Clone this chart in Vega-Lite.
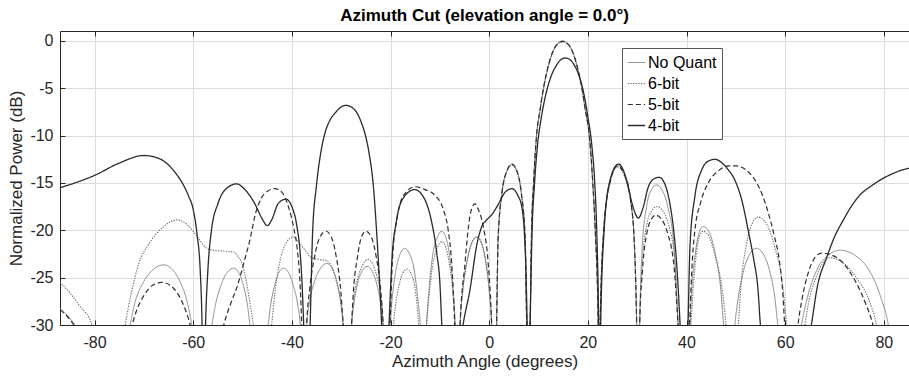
{
"$schema": "https://vega.github.io/schema/vega-lite/v6.json",
"width": 849, "height": 294,
"autosize": {"type": "none"},
"padding": {"left": 60, "top": 31, "right": 0, "bottom": 53},
"background": "white",
"config": {"view": {"stroke": null}, "font": "Liberation Sans"},
"title": {"text": "Azimuth Cut (elevation angle = 0.0°)", "fontSize": 17, "fontWeight": "bold", "font": "Liberation Sans", "color": "#000000", "offset": 6, "anchor": "middle"},
"data": {"values": [
{"s":"No Quant","x":-87,"y":-28.2},{"s":"No Quant","x":-85.5,"y":-29},{"s":"No Quant","x":-84,"y":-30},{"s":"No Quant","x":-78,"y":-40},
{"s":"No Quant","x":-72.8,"y":-30},{"s":"No Quant","x":-71.8,"y":-27.6},{"s":"No Quant","x":-70.1,"y":-25.5},{"s":"No Quant","x":-68,"y":-24.1},{"s":"No Quant","x":-66,"y":-23.65},{"s":"No Quant","x":-64.3,"y":-24.1},{"s":"No Quant","x":-62.6,"y":-25.5},{"s":"No Quant","x":-61.2,"y":-27.6},{"s":"No Quant","x":-60.3,"y":-30},{"s":"No Quant","x":-58.3,"y":-40},
{"s":"No Quant","x":-56.2,"y":-30},{"s":"No Quant","x":-55.5,"y":-27.9},{"s":"No Quant","x":-54.4,"y":-25.85},{"s":"No Quant","x":-53.1,"y":-24.44},{"s":"No Quant","x":-51.8,"y":-24},{"s":"No Quant","x":-50.8,"y":-24.44},{"s":"No Quant","x":-49.8,"y":-25.85},{"s":"No Quant","x":-49,"y":-27.9},{"s":"No Quant","x":-48.5,"y":-30},{"s":"No Quant","x":-46.6,"y":-40},
{"s":"No Quant","x":-44.8,"y":-30},{"s":"No Quant","x":-44.3,"y":-27.9},{"s":"No Quant","x":-43.5,"y":-25.85},{"s":"No Quant","x":-42.6,"y":-24.44},{"s":"No Quant","x":-41.7,"y":-24},{"s":"No Quant","x":-40.7,"y":-24.44},{"s":"No Quant","x":-39.7,"y":-25.85},{"s":"No Quant","x":-38.8,"y":-27.9},{"s":"No Quant","x":-38.3,"y":-30},{"s":"No Quant","x":-37.6,"y":-40},
{"s":"No Quant","x":-37,"y":-30},{"s":"No Quant","x":-36.4,"y":-27.5},{"s":"No Quant","x":-35.4,"y":-25.4},{"s":"No Quant","x":-34.1,"y":-23.95},{"s":"No Quant","x":-32.9,"y":-23.5},{"s":"No Quant","x":-31.9,"y":-23.95},{"s":"No Quant","x":-30.9,"y":-25.4},{"s":"No Quant","x":-30.1,"y":-27.5},{"s":"No Quant","x":-29.6,"y":-30},{"s":"No Quant","x":-28.7,"y":-40},
{"s":"No Quant","x":-27.9,"y":-30},{"s":"No Quant","x":-27.4,"y":-27.7},{"s":"No Quant","x":-26.7,"y":-25.65},{"s":"No Quant","x":-25.7,"y":-24.25},{"s":"No Quant","x":-24.8,"y":-23.8},{"s":"No Quant","x":-23.8,"y":-24.25},{"s":"No Quant","x":-22.8,"y":-25.65},{"s":"No Quant","x":-22,"y":-27.7},{"s":"No Quant","x":-21.5,"y":-30},{"s":"No Quant","x":-20.8,"y":-40},
{"s":"No Quant","x":-20.1,"y":-30},{"s":"No Quant","x":-19.65,"y":-27.1},{"s":"No Quant","x":-18.9,"y":-24.2},{"s":"No Quant","x":-18,"y":-22.45},{"s":"No Quant","x":-17.1,"y":-21.9},{"s":"No Quant","x":-16.2,"y":-22.45},{"s":"No Quant","x":-15.2,"y":-24.2},{"s":"No Quant","x":-14.5,"y":-27.1},{"s":"No Quant","x":-14,"y":-30},{"s":"No Quant","x":-13.4,"y":-40},
{"s":"No Quant","x":-12.7,"y":-30},{"s":"No Quant","x":-12.2,"y":-26.3},{"s":"No Quant","x":-11.5,"y":-22.8},{"s":"No Quant","x":-10.5,"y":-20.7},{"s":"No Quant","x":-9.6,"y":-20.1},{"s":"No Quant","x":-8.8,"y":-20.7},{"s":"No Quant","x":-8,"y":-22.8},{"s":"No Quant","x":-7.3,"y":-26.3},{"s":"No Quant","x":-6.9,"y":-30},{"s":"No Quant","x":-6.4,"y":-40},
{"s":"No Quant","x":-5.9,"y":-30},{"s":"No Quant","x":-5.4,"y":-26.6},{"s":"No Quant","x":-4.5,"y":-23.3},{"s":"No Quant","x":-3.5,"y":-21.3},{"s":"No Quant","x":-2.5,"y":-20.7},{"s":"No Quant","x":-1.6,"y":-21.3},{"s":"No Quant","x":-0.7,"y":-23.3},{"s":"No Quant","x":0.05,"y":-26.6},{"s":"No Quant","x":0.5,"y":-30},{"s":"No Quant","x":1,"y":-40},
{"s":"No Quant","x":1.5,"y":-30},{"s":"No Quant","x":1.8,"y":-21},{"s":"No Quant","x":2.6,"y":-16},{"s":"No Quant","x":3.6,"y":-13.7},{"s":"No Quant","x":4.6,"y":-13},{"s":"No Quant","x":5.6,"y":-13.7},{"s":"No Quant","x":6.5,"y":-16},{"s":"No Quant","x":7.3,"y":-21},{"s":"No Quant","x":7.6,"y":-30},{"s":"No Quant","x":8,"y":-40},
{"s":"No Quant","x":8.3,"y":-30},{"s":"No Quant","x":8.6,"y":-20},{"s":"No Quant","x":9,"y":-15},{"s":"No Quant","x":9.6,"y":-10},{"s":"No Quant","x":10.3,"y":-7.3},{"s":"No Quant","x":11,"y":-5},{"s":"No Quant","x":12,"y":-2.6},{"s":"No Quant","x":13,"y":-1},{"s":"No Quant","x":14,"y":-0.2},{"s":"No Quant","x":14.9,"y":0},{"s":"No Quant","x":15.8,"y":-0.2},{"s":"No Quant","x":16.8,"y":-1},{"s":"No Quant","x":17.8,"y":-2.6},{"s":"No Quant","x":18.8,"y":-5},{"s":"No Quant","x":19.5,"y":-7.3},{"s":"No Quant","x":20.3,"y":-10},{"s":"No Quant","x":21,"y":-15},{"s":"No Quant","x":21.5,"y":-20},{"s":"No Quant","x":22.1,"y":-30},{"s":"No Quant","x":22.3,"y":-40},
{"s":"No Quant","x":22.5,"y":-30},{"s":"No Quant","x":23.2,"y":-20},{"s":"No Quant","x":24.5,"y":-14.8},{"s":"No Quant","x":26,"y":-13.1},{"s":"No Quant","x":27.4,"y":-14},{"s":"No Quant","x":28.6,"y":-16.5},{"s":"No Quant","x":29.4,"y":-21},{"s":"No Quant","x":29.9,"y":-30},{"s":"No Quant","x":30.2,"y":-40},
{"s":"No Quant","x":30.5,"y":-30},{"s":"No Quant","x":31,"y":-22},{"s":"No Quant","x":31.9,"y":-17.5},{"s":"No Quant","x":32.9,"y":-15.7},{"s":"No Quant","x":33.9,"y":-15.2},{"s":"No Quant","x":35,"y":-15.7},{"s":"No Quant","x":36.2,"y":-17.5},{"s":"No Quant","x":37.5,"y":-22},{"s":"No Quant","x":38.3,"y":-30},{"s":"No Quant","x":39.5,"y":-40},
{"s":"No Quant","x":40.7,"y":-30},{"s":"No Quant","x":41.1,"y":-26},{"s":"No Quant","x":41.8,"y":-22.4},{"s":"No Quant","x":42.6,"y":-20.2},{"s":"No Quant","x":43.4,"y":-19.6},{"s":"No Quant","x":44.6,"y":-20.2},{"s":"No Quant","x":45.8,"y":-22.4},{"s":"No Quant","x":46.9,"y":-26},{"s":"No Quant","x":47.5,"y":-30},{"s":"No Quant","x":48.6,"y":-40},
{"s":"No Quant","x":49.8,"y":-30},{"s":"No Quant","x":50.5,"y":-27.1},{"s":"No Quant","x":51.6,"y":-24.2},{"s":"No Quant","x":52.9,"y":-22.45},{"s":"No Quant","x":54.2,"y":-21.9},{"s":"No Quant","x":55.5,"y":-22.45},{"s":"No Quant","x":56.8,"y":-24.2},{"s":"No Quant","x":57.9,"y":-27.1},{"s":"No Quant","x":58.5,"y":-30},{"s":"No Quant","x":61,"y":-40},
{"s":"No Quant","x":63.3,"y":-30},{"s":"No Quant","x":64.5,"y":-27.1},{"s":"No Quant","x":66.4,"y":-24.2},{"s":"No Quant","x":68.8,"y":-22.6},{"s":"No Quant","x":71.1,"y":-22.1},{"s":"No Quant","x":74,"y":-22.6},{"s":"No Quant","x":77,"y":-24.2},{"s":"No Quant","x":79.4,"y":-27.1},{"s":"No Quant","x":80.9,"y":-30},{"s":"No Quant","x":83,"y":-40},{"s":"No Quant","x":85.1,"y":-40},

{"s":"6-bit","x":-87,"y":-25.5},{"s":"6-bit","x":-85,"y":-26.6},{"s":"6-bit","x":-83,"y":-28},{"s":"6-bit","x":-80.5,"y":-30},{"s":"6-bit","x":-77,"y":-40},
{"s":"6-bit","x":-73.8,"y":-30},{"s":"6-bit","x":-72.5,"y":-26.5},{"s":"6-bit","x":-71,"y":-23.5},{"s":"6-bit","x":-68.8,"y":-21.3},{"s":"6-bit","x":-66,"y":-19.6},{"s":"6-bit","x":-63.3,"y":-18.9},{"s":"6-bit","x":-61,"y":-19.5},{"s":"6-bit","x":-59,"y":-20.8},{"s":"6-bit","x":-57.5,"y":-21.8},{"s":"6-bit","x":-56,"y":-22.1},{"s":"6-bit","x":-53.5,"y":-22.2},{"s":"6-bit","x":-51.8,"y":-22.3},{"s":"6-bit","x":-50.9,"y":-22.8},{"s":"6-bit","x":-50.2,"y":-23.4},{"s":"6-bit","x":-49.2,"y":-25.5},{"s":"6-bit","x":-48.4,"y":-28},{"s":"6-bit","x":-47.8,"y":-30},{"s":"6-bit","x":-46,"y":-40},
{"s":"6-bit","x":-44.1,"y":-30},{"s":"6-bit","x":-43.3,"y":-26},{"s":"6-bit","x":-42.2,"y":-22.8},{"s":"6-bit","x":-41,"y":-21.2},{"s":"6-bit","x":-39.7,"y":-20.7},{"s":"6-bit","x":-38.5,"y":-21.3},{"s":"6-bit","x":-37.2,"y":-22.2},{"s":"6-bit","x":-36.3,"y":-22.8},{"s":"6-bit","x":-34.3,"y":-23.1},{"s":"6-bit","x":-33,"y":-23.2},{"s":"6-bit","x":-31.8,"y":-24},{"s":"6-bit","x":-30.7,"y":-26},{"s":"6-bit","x":-30,"y":-28},{"s":"6-bit","x":-29.6,"y":-30},{"s":"6-bit","x":-28.7,"y":-40},
{"s":"6-bit","x":-27.9,"y":-30},{"s":"6-bit","x":-27.4,"y":-27},{"s":"6-bit","x":-26.6,"y":-25},{"s":"6-bit","x":-25.6,"y":-23.6},{"s":"6-bit","x":-24.6,"y":-23.1},{"s":"6-bit","x":-23.6,"y":-23.6},{"s":"6-bit","x":-22.7,"y":-25},{"s":"6-bit","x":-21.9,"y":-27},{"s":"6-bit","x":-21.5,"y":-30},{"s":"6-bit","x":-20.4,"y":-40},
{"s":"6-bit","x":-19.4,"y":-30},{"s":"6-bit","x":-19,"y":-28},{"s":"6-bit","x":-18.3,"y":-25.9},{"s":"6-bit","x":-17.5,"y":-24.5},{"s":"6-bit","x":-16.7,"y":-24.1},{"s":"6-bit","x":-15.9,"y":-24.5},{"s":"6-bit","x":-15.1,"y":-25.9},{"s":"6-bit","x":-14.6,"y":-28},{"s":"6-bit","x":-14.3,"y":-30},{"s":"6-bit","x":-13.5,"y":-40},
{"s":"6-bit","x":-12.7,"y":-30},{"s":"6-bit","x":-12.2,"y":-27},{"s":"6-bit","x":-11.5,"y":-23.8},{"s":"6-bit","x":-10.5,"y":-21.8},{"s":"6-bit","x":-9.6,"y":-21.2},{"s":"6-bit","x":-8.8,"y":-21.8},{"s":"6-bit","x":-8,"y":-23.8},{"s":"6-bit","x":-7.3,"y":-27},{"s":"6-bit","x":-6.9,"y":-30},{"s":"6-bit","x":-6.4,"y":-40},
{"s":"6-bit","x":-5.9,"y":-30},{"s":"6-bit","x":-5.4,"y":-26.6},{"s":"6-bit","x":-4.5,"y":-23.3},{"s":"6-bit","x":-3.5,"y":-21.3},{"s":"6-bit","x":-2.5,"y":-20.7},{"s":"6-bit","x":-1.6,"y":-21.3},{"s":"6-bit","x":-0.7,"y":-23.3},{"s":"6-bit","x":0.05,"y":-26.6},{"s":"6-bit","x":0.5,"y":-30},{"s":"6-bit","x":1,"y":-40},
{"s":"6-bit","x":1.5,"y":-30},{"s":"6-bit","x":1.8,"y":-21.1},{"s":"6-bit","x":2.6,"y":-16.1},{"s":"6-bit","x":3.6,"y":-13.8},{"s":"6-bit","x":4.6,"y":-13.1},{"s":"6-bit","x":5.6,"y":-13.8},{"s":"6-bit","x":6.5,"y":-16.1},{"s":"6-bit","x":7.3,"y":-21.1},{"s":"6-bit","x":7.6,"y":-30},{"s":"6-bit","x":8,"y":-40},
{"s":"6-bit","x":8.3,"y":-30},{"s":"6-bit","x":8.6,"y":-20},{"s":"6-bit","x":9,"y":-15},{"s":"6-bit","x":9.6,"y":-10},{"s":"6-bit","x":10.3,"y":-7.4},{"s":"6-bit","x":11,"y":-5.1},{"s":"6-bit","x":12,"y":-2.7},{"s":"6-bit","x":13,"y":-1.1},{"s":"6-bit","x":14,"y":-0.3},{"s":"6-bit","x":14.9,"y":-0.1},{"s":"6-bit","x":15.8,"y":-0.3},{"s":"6-bit","x":16.8,"y":-1.1},{"s":"6-bit","x":17.8,"y":-2.7},{"s":"6-bit","x":18.8,"y":-5.1},{"s":"6-bit","x":19.5,"y":-7.4},{"s":"6-bit","x":20.3,"y":-10.1},{"s":"6-bit","x":21,"y":-15},{"s":"6-bit","x":21.5,"y":-20},{"s":"6-bit","x":22.1,"y":-30},{"s":"6-bit","x":22.3,"y":-40},
{"s":"6-bit","x":22.5,"y":-30},{"s":"6-bit","x":23.2,"y":-20.2},{"s":"6-bit","x":24.5,"y":-15},{"s":"6-bit","x":26,"y":-13.3},{"s":"6-bit","x":27.4,"y":-14.2},{"s":"6-bit","x":28.6,"y":-16.7},{"s":"6-bit","x":29.4,"y":-21.2},{"s":"6-bit","x":29.9,"y":-30},{"s":"6-bit","x":30.2,"y":-40},
{"s":"6-bit","x":30.5,"y":-30},{"s":"6-bit","x":31.1,"y":-23},{"s":"6-bit","x":32,"y":-19.3},{"s":"6-bit","x":33,"y":-17.9},{"s":"6-bit","x":34,"y":-17.5},{"s":"6-bit","x":35.1,"y":-17.9},{"s":"6-bit","x":36.3,"y":-19.3},{"s":"6-bit","x":37.6,"y":-23},{"s":"6-bit","x":38.3,"y":-30},{"s":"6-bit","x":39.6,"y":-40},
{"s":"6-bit","x":40.9,"y":-30},{"s":"6-bit","x":41.3,"y":-26.5},{"s":"6-bit","x":41.9,"y":-22.9},{"s":"6-bit","x":42.6,"y":-20.7},{"s":"6-bit","x":43.4,"y":-20.1},{"s":"6-bit","x":44.6,"y":-20.7},{"s":"6-bit","x":45.9,"y":-22.9},{"s":"6-bit","x":47.3,"y":-26.5},{"s":"6-bit","x":48,"y":-30},{"s":"6-bit","x":49.3,"y":-40},
{"s":"6-bit","x":50.5,"y":-30},{"s":"6-bit","x":51.1,"y":-25.5},{"s":"6-bit","x":52.1,"y":-21.6},{"s":"6-bit","x":53.3,"y":-19.3},{"s":"6-bit","x":54.5,"y":-18.6},{"s":"6-bit","x":56.2,"y":-19.3},{"s":"6-bit","x":57.8,"y":-21.6},{"s":"6-bit","x":59.4,"y":-25.5},{"s":"6-bit","x":60.3,"y":-30},{"s":"6-bit","x":62,"y":-40},
{"s":"6-bit","x":64,"y":-30},{"s":"6-bit","x":64.8,"y":-27.5},{"s":"6-bit","x":66.1,"y":-25.2},{"s":"6-bit","x":67.6,"y":-23.5},{"s":"6-bit","x":69.1,"y":-22.9},{"s":"6-bit","x":71.9,"y":-23.5},{"s":"6-bit","x":74.7,"y":-25.2},{"s":"6-bit","x":77.1,"y":-27.5},{"s":"6-bit","x":78.5,"y":-30},{"s":"6-bit","x":81,"y":-40},{"s":"6-bit","x":85.1,"y":-40},

{"s":"5-bit","x":-87,"y":-28.4},{"s":"5-bit","x":-85.5,"y":-29.1},{"s":"5-bit","x":-84.2,"y":-30},{"s":"5-bit","x":-78,"y":-40},
{"s":"5-bit","x":-72.4,"y":-30},{"s":"5-bit","x":-71.5,"y":-28.5},{"s":"5-bit","x":-70,"y":-26.9},{"s":"5-bit","x":-68.2,"y":-25.8},{"s":"5-bit","x":-66.4,"y":-25.5},{"s":"5-bit","x":-64.7,"y":-25.8},{"s":"5-bit","x":-62.9,"y":-26.9},{"s":"5-bit","x":-61.5,"y":-28.5},{"s":"5-bit","x":-60.6,"y":-30},{"s":"5-bit","x":-57,"y":-40},
{"s":"5-bit","x":-53.8,"y":-30},{"s":"5-bit","x":-52.3,"y":-27.6},{"s":"5-bit","x":-51,"y":-25.8},{"s":"5-bit","x":-49.5,"y":-23},{"s":"5-bit","x":-48.5,"y":-21},{"s":"5-bit","x":-47.4,"y":-18.3},{"s":"5-bit","x":-46.2,"y":-16.6},{"s":"5-bit","x":-45,"y":-15.9},{"s":"5-bit","x":-43.5,"y":-15.6},{"s":"5-bit","x":-42,"y":-16},{"s":"5-bit","x":-40.7,"y":-17.5},{"s":"5-bit","x":-39.6,"y":-19.8},{"s":"5-bit","x":-38.9,"y":-22},{"s":"5-bit","x":-38.3,"y":-26},{"s":"5-bit","x":-38,"y":-30},{"s":"5-bit","x":-37.5,"y":-40},
{"s":"5-bit","x":-37,"y":-30},{"s":"5-bit","x":-36.4,"y":-26.3},{"s":"5-bit","x":-35.4,"y":-22.8},{"s":"5-bit","x":-34.3,"y":-20.7},{"s":"5-bit","x":-33.1,"y":-20.1},{"s":"5-bit","x":-32,"y":-20.7},{"s":"5-bit","x":-31,"y":-22.8},{"s":"5-bit","x":-30.1,"y":-26.3},{"s":"5-bit","x":-29.6,"y":-30},{"s":"5-bit","x":-28.7,"y":-40},
{"s":"5-bit","x":-27.9,"y":-30},{"s":"5-bit","x":-27.5,"y":-26.3},{"s":"5-bit","x":-26.7,"y":-22.8},{"s":"5-bit","x":-25.9,"y":-20.7},{"s":"5-bit","x":-25,"y":-20.1},{"s":"5-bit","x":-23.9,"y":-20.7},{"s":"5-bit","x":-22.9,"y":-22.8},{"s":"5-bit","x":-22,"y":-26.3},{"s":"5-bit","x":-21.5,"y":-30},{"s":"5-bit","x":-20.8,"y":-40},
{"s":"5-bit","x":-20.1,"y":-30},{"s":"5-bit","x":-19.6,"y":-23},{"s":"5-bit","x":-18.6,"y":-18.5},{"s":"5-bit","x":-17.2,"y":-16.2},{"s":"5-bit","x":-15,"y":-15.4},{"s":"5-bit","x":-13,"y":-15.7},{"s":"5-bit","x":-11,"y":-16.3},{"s":"5-bit","x":-9.3,"y":-17.8},{"s":"5-bit","x":-8.3,"y":-20},{"s":"5-bit","x":-7.6,"y":-23.5},{"s":"5-bit","x":-7,"y":-30},{"s":"5-bit","x":-6.5,"y":-40},
{"s":"5-bit","x":-5.9,"y":-30},{"s":"5-bit","x":-4.9,"y":-23.5},{"s":"5-bit","x":-4.2,"y":-19.6},{"s":"5-bit","x":-3.6,"y":-17.8},{"s":"5-bit","x":-2.9,"y":-17.2},{"s":"5-bit","x":-2.2,"y":-17.8},{"s":"5-bit","x":-1.2,"y":-19.6},{"s":"5-bit","x":-0.2,"y":-23.5},{"s":"5-bit","x":0.5,"y":-30},{"s":"5-bit","x":1,"y":-40},
{"s":"5-bit","x":1.5,"y":-30},{"s":"5-bit","x":1.8,"y":-21},{"s":"5-bit","x":2.6,"y":-16},{"s":"5-bit","x":3.6,"y":-13.7},{"s":"5-bit","x":4.6,"y":-13},{"s":"5-bit","x":5.6,"y":-13.7},{"s":"5-bit","x":6.5,"y":-16},{"s":"5-bit","x":7.3,"y":-21},{"s":"5-bit","x":7.6,"y":-30},{"s":"5-bit","x":8,"y":-40},
{"s":"5-bit","x":8.3,"y":-30},{"s":"5-bit","x":8.6,"y":-20},{"s":"5-bit","x":9,"y":-15},{"s":"5-bit","x":9.6,"y":-10},{"s":"5-bit","x":10.3,"y":-7.3},{"s":"5-bit","x":11,"y":-5},{"s":"5-bit","x":12,"y":-2.6},{"s":"5-bit","x":13,"y":-1},{"s":"5-bit","x":14,"y":-0.25},{"s":"5-bit","x":14.9,"y":-0.05},{"s":"5-bit","x":15.8,"y":-0.25},{"s":"5-bit","x":16.8,"y":-1},{"s":"5-bit","x":17.8,"y":-2.6},{"s":"5-bit","x":18.8,"y":-5},{"s":"5-bit","x":19.5,"y":-7.3},{"s":"5-bit","x":20.3,"y":-10},{"s":"5-bit","x":21,"y":-15},{"s":"5-bit","x":21.5,"y":-20},{"s":"5-bit","x":22.1,"y":-30},{"s":"5-bit","x":22.3,"y":-40},
{"s":"5-bit","x":22.5,"y":-30},{"s":"5-bit","x":23.2,"y":-20.1},{"s":"5-bit","x":24.5,"y":-14.9},{"s":"5-bit","x":26,"y":-13.2},{"s":"5-bit","x":27.4,"y":-14.1},{"s":"5-bit","x":28.6,"y":-16.6},{"s":"5-bit","x":29.4,"y":-21.1},{"s":"5-bit","x":29.9,"y":-30},{"s":"5-bit","x":30.2,"y":-40},
{"s":"5-bit","x":30.5,"y":-30},{"s":"5-bit","x":31.1,"y":-24},{"s":"5-bit","x":32,"y":-20.2},{"s":"5-bit","x":32.9,"y":-18.8},{"s":"5-bit","x":33.8,"y":-18.4},{"s":"5-bit","x":34.9,"y":-18.8},{"s":"5-bit","x":36.1,"y":-20.2},{"s":"5-bit","x":37.5,"y":-24},{"s":"5-bit","x":38.3,"y":-30},{"s":"5-bit","x":39.5,"y":-40},
{"s":"5-bit","x":40.6,"y":-30},{"s":"5-bit","x":41.2,"y":-23},{"s":"5-bit","x":41.7,"y":-20},{"s":"5-bit","x":42.9,"y":-17},{"s":"5-bit","x":44.4,"y":-15},{"s":"5-bit","x":46.5,"y":-13.7},{"s":"5-bit","x":48.5,"y":-13.2},{"s":"5-bit","x":50,"y":-13.2},{"s":"5-bit","x":52,"y":-13.6},{"s":"5-bit","x":53.9,"y":-14.7},{"s":"5-bit","x":55.4,"y":-16.3},{"s":"5-bit","x":56.6,"y":-18.2},{"s":"5-bit","x":57.8,"y":-20.6},{"s":"5-bit","x":58.9,"y":-23.5},{"s":"5-bit","x":59.5,"y":-26.5},{"s":"5-bit","x":59.9,"y":-30},{"s":"5-bit","x":61.2,"y":-40},
{"s":"5-bit","x":62.6,"y":-30},{"s":"5-bit","x":63.3,"y":-27.6},{"s":"5-bit","x":64.5,"y":-24.8},{"s":"5-bit","x":66,"y":-22.9},{"s":"5-bit","x":67.4,"y":-22.4},{"s":"5-bit","x":70.5,"y":-22.9},{"s":"5-bit","x":73.6,"y":-24.8},{"s":"5-bit","x":76.2,"y":-27.6},{"s":"5-bit","x":77.8,"y":-30},{"s":"5-bit","x":81,"y":-40},{"s":"5-bit","x":85.1,"y":-40},

{"s":"4-bit","x":-87,"y":-15.5},{"s":"4-bit","x":-84,"y":-15},{"s":"4-bit","x":-80,"y":-14.2},{"s":"4-bit","x":-75,"y":-12.9},{"s":"4-bit","x":-70,"y":-12.1},{"s":"4-bit","x":-67,"y":-12.4},{"s":"4-bit","x":-65,"y":-13.1},{"s":"4-bit","x":-63.5,"y":-14},{"s":"4-bit","x":-62,"y":-15.2},{"s":"4-bit","x":-61,"y":-16.3},{"s":"4-bit","x":-60,"y":-17.8},{"s":"4-bit","x":-59.2,"y":-20.5},{"s":"4-bit","x":-58.6,"y":-24},{"s":"4-bit","x":-58.2,"y":-30},{"s":"4-bit","x":-57.9,"y":-40},
{"s":"4-bit","x":-57.5,"y":-30},{"s":"4-bit","x":-57,"y":-24},{"s":"4-bit","x":-56.3,"y":-20},{"s":"4-bit","x":-55,"y":-17.2},{"s":"4-bit","x":-53.5,"y":-15.7},{"s":"4-bit","x":-51.2,"y":-15.1},{"s":"4-bit","x":-49.5,"y":-15.7},{"s":"4-bit","x":-47.5,"y":-17.2},{"s":"4-bit","x":-46,"y":-18.8},{"s":"4-bit","x":-45,"y":-19.5},{"s":"4-bit","x":-44,"y":-18.8},{"s":"4-bit","x":-42.8,"y":-17.2},{"s":"4-bit","x":-41.2,"y":-16.7},{"s":"4-bit","x":-40,"y":-17.5},{"s":"4-bit","x":-39,"y":-19.5},{"s":"4-bit","x":-38.3,"y":-22.5},{"s":"4-bit","x":-37.9,"y":-26},{"s":"4-bit","x":-37.6,"y":-30},{"s":"4-bit","x":-37,"y":-40},
{"s":"4-bit","x":-36.3,"y":-30},{"s":"4-bit","x":-35.8,"y":-20.3},{"s":"4-bit","x":-35,"y":-15.2},{"s":"4-bit","x":-34.2,"y":-12},{"s":"4-bit","x":-33.3,"y":-9.75},{"s":"4-bit","x":-32.2,"y":-8.3},{"s":"4-bit","x":-31.2,"y":-7.6},{"s":"4-bit","x":-30.1,"y":-7},{"s":"4-bit","x":-29,"y":-6.8},{"s":"4-bit","x":-27.9,"y":-7},{"s":"4-bit","x":-26.8,"y":-7.6},{"s":"4-bit","x":-26,"y":-8.5},{"s":"4-bit","x":-25.2,"y":-9.75},{"s":"4-bit","x":-24.3,"y":-12},{"s":"4-bit","x":-23.5,"y":-15.2},{"s":"4-bit","x":-22.8,"y":-20.3},{"s":"4-bit","x":-21.8,"y":-30},{"s":"4-bit","x":-21,"y":-40},
{"s":"4-bit","x":-20.3,"y":-30},{"s":"4-bit","x":-19.7,"y":-23},{"s":"4-bit","x":-18.8,"y":-19},{"s":"4-bit","x":-17.3,"y":-16.5},{"s":"4-bit","x":-15.1,"y":-15.7},{"s":"4-bit","x":-13.2,"y":-16.6},{"s":"4-bit","x":-11.8,"y":-18.8},{"s":"4-bit","x":-10.6,"y":-22.5},{"s":"4-bit","x":-10,"y":-25.5},{"s":"4-bit","x":-9.6,"y":-30},{"s":"4-bit","x":-7.5,"y":-40},
{"s":"4-bit","x":-5.3,"y":-30},{"s":"4-bit","x":-3.9,"y":-26.3},{"s":"4-bit","x":-2.5,"y":-21.5},{"s":"4-bit","x":-1.5,"y":-19.6},{"s":"4-bit","x":-0.5,"y":-18.9},{"s":"4-bit","x":0.6,"y":-18.3},{"s":"4-bit","x":1.8,"y":-17.3},{"s":"4-bit","x":3.2,"y":-16},{"s":"4-bit","x":4.6,"y":-15.6},{"s":"4-bit","x":5.8,"y":-16.3},{"s":"4-bit","x":6.6,"y":-17.5},{"s":"4-bit","x":7.1,"y":-20},{"s":"4-bit","x":7.4,"y":-23.5},{"s":"4-bit","x":7.7,"y":-30},{"s":"4-bit","x":8,"y":-40},
{"s":"4-bit","x":8.3,"y":-30},{"s":"4-bit","x":8.7,"y":-20},{"s":"4-bit","x":9.2,"y":-15},{"s":"4-bit","x":9.8,"y":-11},{"s":"4-bit","x":10.6,"y":-8},{"s":"4-bit","x":11.5,"y":-5.6},{"s":"4-bit","x":12.5,"y":-3.8},{"s":"4-bit","x":13.6,"y":-2.6},{"s":"4-bit","x":14.6,"y":-1.95},{"s":"4-bit","x":15.4,"y":-1.8},{"s":"4-bit","x":16.3,"y":-1.95},{"s":"4-bit","x":17.3,"y":-2.6},{"s":"4-bit","x":18.3,"y":-3.8},{"s":"4-bit","x":19.2,"y":-5.6},{"s":"4-bit","x":20,"y":-8},{"s":"4-bit","x":20.8,"y":-11},{"s":"4-bit","x":21.4,"y":-15},{"s":"4-bit","x":21.8,"y":-20},{"s":"4-bit","x":22.2,"y":-30},{"s":"4-bit","x":22.4,"y":-40},
{"s":"4-bit","x":22.6,"y":-30},{"s":"4-bit","x":23.3,"y":-20},{"s":"4-bit","x":24.5,"y":-14.7},{"s":"4-bit","x":26.2,"y":-13},{"s":"4-bit","x":27.3,"y":-13.8},{"s":"4-bit","x":28.2,"y":-15.5},{"s":"4-bit","x":29.2,"y":-17.6},{"s":"4-bit","x":30.25,"y":-18.7},{"s":"4-bit","x":31.2,"y":-17.6},{"s":"4-bit","x":32.2,"y":-15.5},{"s":"4-bit","x":33.3,"y":-14.6},{"s":"4-bit","x":34.5,"y":-14.4},{"s":"4-bit","x":35.6,"y":-15.1},{"s":"4-bit","x":36.6,"y":-17.1},{"s":"4-bit","x":37.4,"y":-20},{"s":"4-bit","x":38,"y":-23.5},{"s":"4-bit","x":38.7,"y":-30},{"s":"4-bit","x":39.5,"y":-40},
{"s":"4-bit","x":40.3,"y":-30},{"s":"4-bit","x":40.7,"y":-21.7},{"s":"4-bit","x":41.7,"y":-16.4},{"s":"4-bit","x":43.1,"y":-13.6},{"s":"4-bit","x":44.4,"y":-12.7},{"s":"4-bit","x":45.8,"y":-12.5},{"s":"4-bit","x":47,"y":-12.8},{"s":"4-bit","x":48.3,"y":-13.5},{"s":"4-bit","x":49.8,"y":-14.7},{"s":"4-bit","x":51.3,"y":-17},{"s":"4-bit","x":52.5,"y":-20},{"s":"4-bit","x":53.6,"y":-23},{"s":"4-bit","x":54.5,"y":-26.3},{"s":"4-bit","x":55,"y":-30},{"s":"4-bit","x":60,"y":-40},
{"s":"4-bit","x":65.3,"y":-30},{"s":"4-bit","x":66.5,"y":-26},{"s":"4-bit","x":68.4,"y":-22.9},{"s":"4-bit","x":70,"y":-20.7},{"s":"4-bit","x":71.8,"y":-18.9},{"s":"4-bit","x":73.5,"y":-17.4},{"s":"4-bit","x":75.1,"y":-16.3},{"s":"4-bit","x":77.5,"y":-15.3},{"s":"4-bit","x":79.9,"y":-14.5},{"s":"4-bit","x":82.3,"y":-13.9},{"s":"4-bit","x":84.6,"y":-13.5},{"s":"4-bit","x":85.1,"y":-13.45}
]},
"layer": [
{
"mark": {"type": "line", "clip": true, "interpolate": "monotone"},
"encoding": {
"x": {"field": "x", "type": "quantitative",
 "scale": {"domain": [-87, 85.1], "nice": false, "zero": false},
 "axis": {"values": [-80,-60,-40,-20,0,20,40,60,80], "labelExpr": "'' + datum.value", "title": "Azimuth Angle (degrees)", "grid": true, "gridColor": "#dcdcdc", "tickSize": -5, "tickColor": "#262626", "domainColor": "#262626", "labelFontSize": 16, "labelColor": "#262626", "labelPadding": 14, "labelFlush": false, "titleFontSize": 17, "titleFontWeight": "normal", "titleColor": "#262626", "titlePadding": 3}},
"y": {"field": "y", "type": "quantitative",
 "scale": {"domain": [-30, 1.05], "nice": false, "zero": false},
 "axis": {"values": [-30,-25,-20,-15,-10,-5,0], "labelExpr": "'' + datum.value", "title": "Normalized Power (dB)", "grid": true, "gridColor": "#dcdcdc", "tickSize": -5, "tickColor": "#262626", "domainColor": "#262626", "labelFontSize": 16, "labelColor": "#262626", "labelPadding": 12, "labelFlush": false, "titleFontSize": 17, "titleFontWeight": "normal", "titleColor": "#262626", "titlePadding": 4}},
"color": {"field": "s", "type": "nominal",
 "scale": {"domain": ["No Quant", "6-bit", "5-bit", "4-bit"], "range": ["#8a8a8a", "#6a6a6a", "#2e2e2e", "#2a2a2a"]},
 "legend": {"title": null, "orient": "none", "legendX": 562, "legendY": 17, "strokeColor": "#555555", "fillColor": "white", "padding": 5, "symbolType": "stroke", "symbolSize": 300, "labelFontSize": 16, "labelColor": "#000000", "rowPadding": 3, "labelOffset": 2}},
"strokeDash": {"field": "s", "type": "nominal",
 "scale": {"domain": ["No Quant", "6-bit", "5-bit", "4-bit"], "range": [[1,0],[1.3,1.3],[5,3],[1,0]]},
 "legend": {"title": null, "orient": "none", "legendX": 562, "legendY": 17, "strokeColor": "#555555", "fillColor": "white", "padding": 5, "symbolType": "stroke", "symbolSize": 300, "labelFontSize": 16, "labelColor": "#000000", "rowPadding": 3, "labelOffset": 2}},
"strokeWidth": {"field": "s", "type": "nominal",
 "scale": {"domain": ["No Quant", "6-bit", "5-bit", "4-bit"], "range": [1, 1.3, 1.7, 2.3]},
 "legend": {"title": null, "orient": "none", "legendX": 562, "legendY": 17, "strokeColor": "#555555", "fillColor": "white", "padding": 5, "symbolType": "stroke", "symbolSize": 300, "labelFontSize": 16, "labelColor": "#000000", "rowPadding": 3, "labelOffset": 2}}
}
},
{
"data": {"values": [{"x": 0}]},
"mark": {"type": "point", "opacity": 0},
"encoding": {
"x": {"field": "x", "type": "quantitative",
 "axis": {"orient": "top", "values": [-80,-60,-40,-20,0,20,40,60,80], "labels": false, "title": null, "grid": false, "tickSize": -5, "tickColor": "#262626", "domainColor": "#262626"}}
}
}
],
"resolve": {"axis": {"x": "independent"}}
}
